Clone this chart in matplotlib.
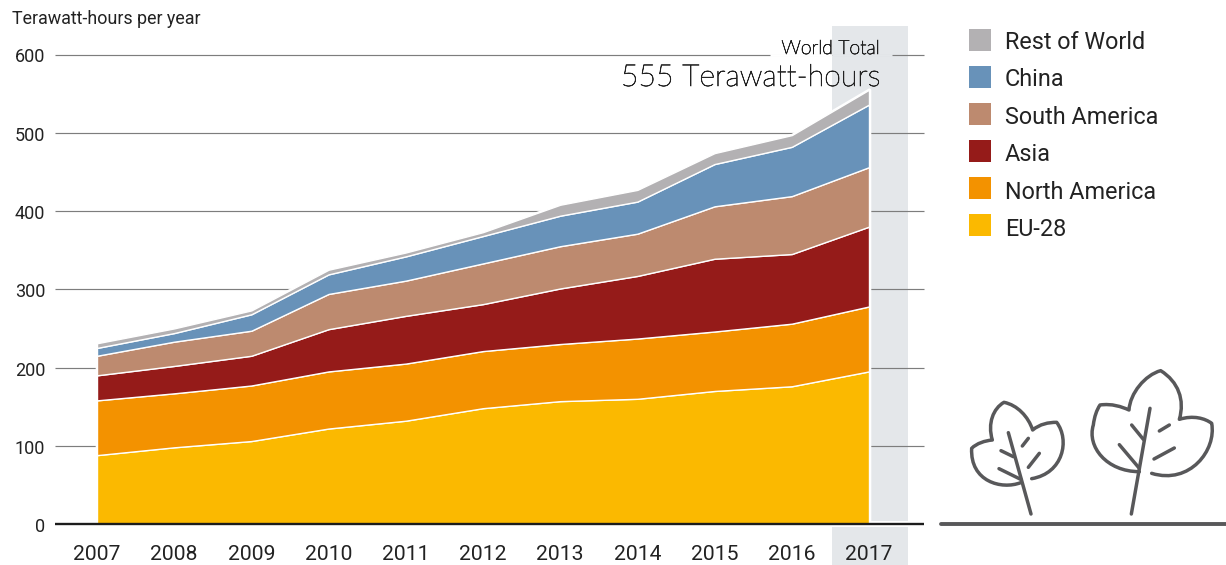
import numpy as np
import matplotlib
matplotlib.use("Agg")
import matplotlib.pyplot as plt
import matplotlib.patheffects as pe
from matplotlib.path import Path as MPath
from matplotlib.patches import PathPatch

years = [2007, 2008, 2009, 2010, 2011, 2012, 2013, 2014, 2015, 2016, 2017]
eu28 = [88, 98, 106, 122, 132, 148, 157, 160, 170, 176, 195]
north_america = [70, 69, 71, 73, 73, 73, 73, 77, 76, 80, 83]
asia = [32, 35, 38, 54, 61, 60, 71, 80, 93, 89, 102]
south_america = [25, 31, 32, 45, 45, 52, 54, 54, 67, 74, 76]
china = [10, 11, 21, 25, 31, 35, 39, 41, 54, 63, 80]
rest_of_world = [6, 6, 5, 6, 5, 5, 14, 15, 14, 15, 19]

names = ["EU-28", "North America", "Asia", "South America", "China", "Rest of World"]
colors = ["#fbb900", "#f39200", "#951b19", "#bd8a6f", "#6892b9", "#b3b1b3"]
yticks = [0, 100, 200, 300, 400, 500, 600]

W, H = 1226, 565
plt.rcParams["font.family"] = ["Roboto", "DejaVu Sans"]
TXT = "#222222"
BAND = "#e4e7ea"

fig = plt.figure(figsize=(W / 100, H / 100), dpi=100)

# main axes spans the figure, limits chosen so 2007=97px, 2017=869px, 0=524px, 600=54.5px
px_year = (869 - 97) / 10
px_unit = (524 - 54.5) / 600
ax = fig.add_axes([0, 0, 1, 1])
ax.set_xlim(2007 - 97 / px_year, 2007 + (W - 97) / px_year)
ax.set_ylim(-(H - 524) / px_unit, 524 / px_unit)
ax.axis("off")


def xpx(p):
    return 2007 + (p - 97) / px_year


def ypx(p):
    return (524 - p) / px_unit


# highlight band for the last year, broken around the baseline
ax.axvspan(xpx(832), xpx(908), ymin=(H - 521) / H, ymax=(H - 26) / H, color=BAND, lw=0, zorder=1)
ax.axvspan(xpx(832), xpx(908), ymin=0, ymax=(H - 527) / H, color=BAND, lw=0, zorder=1)

for t in yticks[1:]:
    ax.plot([xpx(55), xpx(924)], [t, t], color="#7d7d7d", lw=0.85, zorder=2, solid_capstyle="butt")
ax.plot([xpx(55), xpx(924)], [0, 0], color="#1c1c1c", lw=1.7, zorder=6, solid_capstyle="butt")

# white halo round the whole stack, cuts the gridlines
total = np.sum([eu28, north_america, asia, south_america, china, rest_of_world], axis=0)
ax.fill_between(years, total, color="white", ec="white", lw=2.6, zorder=3)

# stacked areas with white edges
polys = ax.stackplot(years, eu28, north_america, asia, south_america, china, rest_of_world,
                     colors=colors, edgecolor="white", linewidth=1.0, zorder=4)

for t in yticks:
    ax.text(xpx(45), ypx(524 - t * px_unit + 3), str(t), ha="right", va="center", fontsize=13, color=TXT, zorder=7)
for y in years:
    ax.text(y, ypx(555), str(y), ha="center", va="center", fontsize=15.2, color=TXT, zorder=7)

ax.text(xpx(12), ypx(19), "Terawatt-hours per year", ha="left", va="center", fontsize=12.9, color=TXT)

# Lato light comes out as a hairline, a thin stroke brings it up to the right weight
thicken = [pe.withStroke(linewidth=0.5, foreground=TXT)]
ax.text(xpx(880), ypx(49), "World Total", ha="right", va="center", fontsize=14, color=TXT, zorder=7,
        family=["Lato", "DejaVu Sans"], weight="light", path_effects=thicken)
ax.text(xpx(880), ypx(78), "555 Terawatt-hours", ha="right", va="center", fontsize=21.8, color=TXT, zorder=7,
        family=["Lato", "DejaVu Sans"], weight="light", path_effects=thicken)
# gap in the 600 gridline behind the label
ax.plot([xpx(770), xpx(832)], [600, 600], color="white", lw=2, zorder=3, solid_capstyle="butt")
ax.plot([xpx(832), xpx(892)], [600, 600], color=BAND, lw=2, zorder=3, solid_capstyle="butt")

# legend drawn by hand to sit in the right margin
for i, (n, c) in enumerate(zip(names[::-1], colors[::-1])):
    yc = 40 + i * 37
    ax.fill_between([xpx(969), xpx(991)], ypx(yc - 11), ypx(yc + 11), color=c, lw=0, zorder=4)
    ax.text(xpx(1005), ypx(42.5 + i * 37.4), n, ha="left", va="center", fontsize=16.8, color=TXT)

# plant icon, in figure pixels
ic = fig.add_axes([0, 0, 1, 1])
ic.set_xlim(0, W)
ic.set_ylim(H, 0)
ic.axis("off")
ic.patch.set_alpha(0)


def zm(x, y):
    return (930 + x / 3, 360 + y / 3)


def curve(pts, codes):
    verts = [zm(*p) for p in pts]
    ic.add_patch(PathPatch(MPath(verts, codes), fc="none", ec="#58585a", lw=2.5, capstyle="round", joinstyle="round"))


M, C, L = MPath.MOVETO, MPath.CURVE4, MPath.LINETO
curve([(272, 368), (215, 390), (120, 365), (125, 265),
       (140, 250), (165, 242), (187, 240),
       (172, 190), (190, 145), (222, 127),
       (262, 135), (295, 170), (308, 210),
       (330, 192), (355, 187), (380, 187),
       (420, 240), (400, 340), (305, 356)],
      [M] + [C] * 18)
curve([(628, 335), (530, 335), (470, 260), (490, 195),
       (493, 170), (500, 150), (510, 135),
       (545, 130), (575, 140), (597, 150),
       (600, 100), (645, 45), (692, 32),
       (745, 65), (765, 120), (748, 178),
       (790, 165), (825, 175), (845, 190),
       (860, 270), (780, 375), (665, 340)],
      [M] + [C] * 21)
segs = [((235, 218), (303, 462)), ((213, 272), (250, 290)), ((207, 326), (272, 358)),
        ((277, 258), (295, 235)), ((295, 322), (328, 280)),
        ((660, 145), (604, 462)), ((605, 195), (640, 238)), ((568, 254), (628, 325)),
        ((688, 213), (718, 195)), ((672, 297), (733, 264))]
for a, b in segs:
    curve([a, b], [M, L])
ic.plot([941, 1226], [524, 524], color="#58585a", lw=2.8, solid_capstyle="round")

fig.savefig("out.png", dpi=100)
